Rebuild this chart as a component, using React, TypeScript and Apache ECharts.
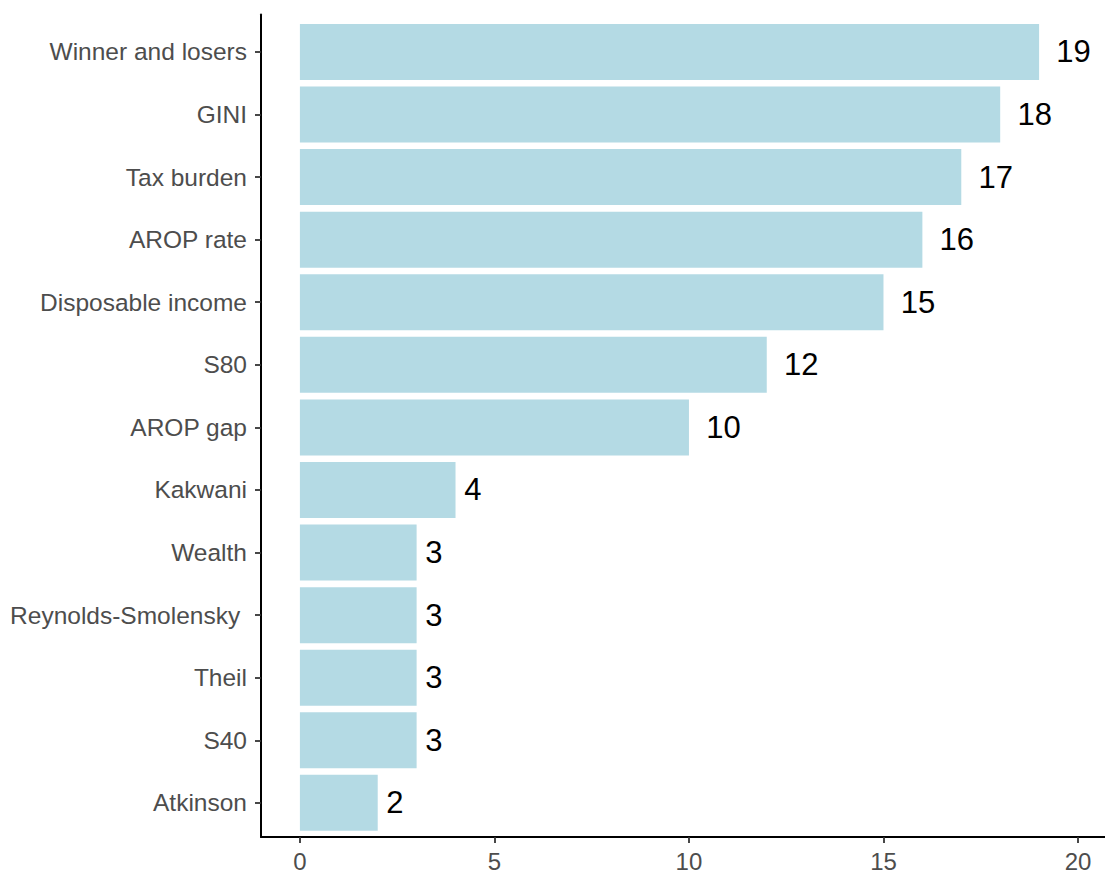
import React, { useEffect, useRef } from "react";
import * as echarts from "echarts";

const categories = [
  "Winner and losers",
  "GINI",
  "Tax burden",
  "AROP rate",
  "Disposable income",
  "S80",
  "AROP gap",
  "Kakwani",
  "Wealth",
  "Reynolds-Smolensky ",
  "Theil",
  "S40",
  "Atkinson",
];
const counts = [19, 18, 17, 16, 15, 12, 10, 4, 3, 3, 3, 3, 2];
const xTicks = [0, 5, 10, 15, 20];

const FONT = "'Liberation Sans', Arial, sans-serif";
const NUM_SIZE = 31;

export default function App() {
  const ref = useRef<HTMLDivElement>(null);
  useEffect(() => {
    if (!ref.current) return;
    const chart = echarts.init(ref.current, null, { renderer: "svg" });
    const xMin = -1;
    const xMax = 20 + 27 / 38.905;
    const band = 826 / 13.2;
    const top = 14.4;
    const bottomEdge = 873 - 840.4;
    chart.setOption({
      animation: false,
      backgroundColor: "#ffffff",
      textStyle: { fontFamily: FONT },
      grid: [
        { left: 261, right: 0, top: top + 0.1 * band, bottom: bottomEdge + 0.1 * band },
        { left: 261, right: 0, top: top, bottom: bottomEdge },
      ],
      xAxis: [
        {
          gridIndex: 0,
          type: "value",
          min: xMin,
          max: xMax,
          show: false,
          splitLine: { show: false },
        },
        {
          gridIndex: 1,
          type: "value",
          min: xMin,
          max: xMax,
          splitLine: { show: false },
          axisLine: { show: true, onZero: false, lineStyle: { color: "#000", width: 2 } },
          axisTick: { show: true, length: 6, customValues: xTicks, lineStyle: { color: "#333", width: 1.8 } },
          axisLabel: {
            show: true,
            customValues: xTicks,
            fontSize: 24,
            color: "#4d4d4d",
            margin: 12,
            fontFamily: FONT,
          },
        },
      ],
      yAxis: [
        {
          gridIndex: 0,
          type: "category",
          data: categories,
          inverse: true,
          axisLine: { show: false, onZero: false },
          axisTick: { show: true, alignWithLabel: true, length: 6, lineStyle: { color: "#333", width: 1.8 } },
          axisLabel: { fontSize: 24.5, color: "#4d4d4d", margin: 14, fontFamily: FONT },
          splitLine: { show: false },
        },
        {
          gridIndex: 1,
          type: "value",
          min: 0,
          max: 1,
          axisLine: { show: true, onZero: false, lineStyle: { color: "#000", width: 2 } },
          axisTick: { show: false },
          axisLabel: { show: false },
          splitLine: { show: false },
        },
      ],
      series: [
        {
          type: "bar",
          xAxisIndex: 0,
          yAxisIndex: 0,
          barWidth: 56,
          itemStyle: { color: "#b4dae4" },
          data: counts.map((v) => ({
            value: v,
            label: {
              show: true,
              position: "right",
              distance: 0.5 * String(v).length * 0.556 * NUM_SIZE,
              fontSize: NUM_SIZE,
              color: "#000",
              fontFamily: FONT,
            },
          })),
        },
      ],
    });
    return () => chart.dispose();
  }, []);
  return <div ref={ref} style={{ width: 1105, height: 873, position: "absolute", left: 0, top: 0 }} />;
}
